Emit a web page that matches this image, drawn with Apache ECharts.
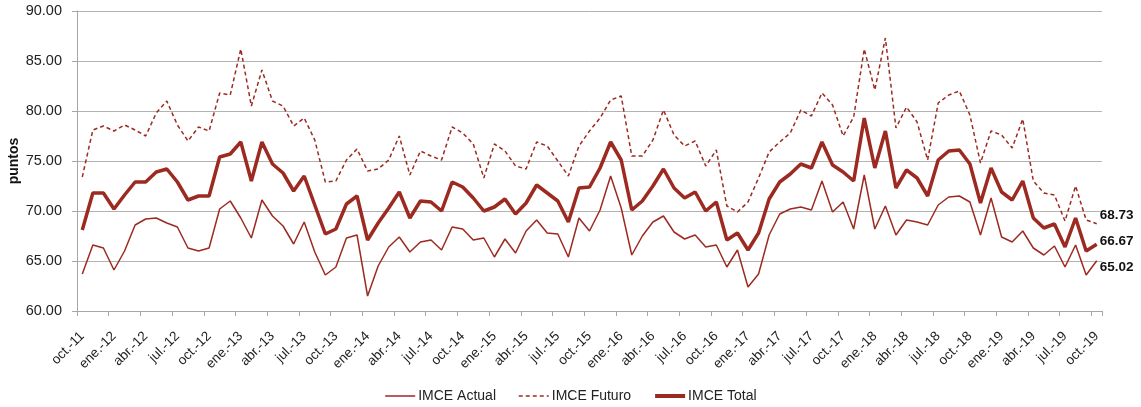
<!DOCTYPE html>
<html>
<head>
<meta charset="utf-8">
<script src="https://cdn.jsdelivr.net/npm/echarts@6/dist/echarts.min.js"></script>
<style>
  html, body { margin: 0; padding: 0; background: #fff; }
  #chart { width: 1141px; height: 407px; }
</style>
</head>
<body>
<div id="chart"></div>
<script>
// meses (oct-11 .. oct-19)
var meses = ['ene.', 'feb.', 'mar.', 'abr.', 'may.', 'jun.', 'jul.', 'ago.', 'sep.', 'oct.', 'nov.', 'dic.'];
var categorias = [];
for (var i = 0; i < 97; i++) {
  var m = (9 + i) % 12;
  var y = 11 + Math.floor((9 + i) / 12);
  categorias.push(meses[m] + '-' + y);
}

var imceActual = [
  63.7, 66.6, 66.3, 64.1, 66.0, 68.6, 69.2, 69.3, 68.8, 68.4, 66.3, 66.0,
  66.3, 70.2, 71.0, 69.3, 67.3, 71.1, 69.5, 68.5, 66.7, 68.9, 65.9, 63.6,
  64.4, 67.3, 67.6, 61.5, 64.5, 66.4, 67.4, 65.9, 66.9, 67.1, 66.1, 68.4,
  68.2, 67.1, 67.3, 65.4, 67.2, 65.8, 68.0, 69.1, 67.8, 67.7, 65.4, 69.3,
  68.0, 70.1, 73.5, 70.3, 65.6, 67.5, 68.9, 69.5, 67.9, 67.2, 67.6, 66.4,
  66.6, 64.4, 66.1, 62.4, 63.7, 67.6, 69.7, 70.2, 70.4, 70.1, 73.0, 69.9,
  70.9, 68.2, 73.6, 68.2, 70.5, 67.6, 69.1, 68.9, 68.6, 70.6, 71.4, 71.5,
  70.9, 67.6, 71.3, 67.4, 66.9, 68.0, 66.3, 65.6, 66.5, 64.4, 66.6, 63.6,
  65.02
];

var imceFuturo = [
  73.4, 78.1, 78.5, 78.0, 78.6, 78.1, 77.5, 79.8, 81.0, 78.6, 77.0, 78.4,
  78.0, 81.8, 81.6, 86.2, 80.5, 84.1, 81.0, 80.5, 78.5, 79.3, 77.1, 72.9,
  73.0, 75.1, 76.2, 74.0, 74.2, 75.1, 77.5, 73.6, 76.0, 75.5, 75.1, 78.4,
  77.8, 76.7, 73.3, 76.7, 76.0, 74.5, 74.2, 76.9, 76.5, 75.0, 73.5, 76.5,
  78.0, 79.3, 81.1, 81.5, 75.5, 75.5, 77.1, 80.1, 77.6, 76.5, 77.0, 74.5,
  76.1, 70.5, 69.9, 70.9, 73.3, 75.9, 76.9, 77.8, 80.1, 79.5, 81.8, 80.6,
  77.5, 79.4, 86.2, 82.1, 87.3, 78.3, 80.4, 78.9, 75.1, 80.8, 81.6, 82.0,
  79.6, 74.8, 78.0, 77.6, 76.3, 79.2, 73.0, 71.8, 71.6, 69.0, 72.5, 69.1,
  68.73
];

var imceTotal = [
  68.1, 71.8, 71.8, 70.2, 71.6, 72.9, 72.9, 73.9, 74.2, 72.9, 71.1, 71.5,
  71.5, 75.4, 75.7, 76.9, 73.0, 76.9, 74.7, 73.8, 72.0, 73.5, 70.6, 67.7,
  68.2, 70.7, 71.5, 67.1, 68.8, 70.3, 71.9, 69.3, 71.0, 70.9, 70.0, 72.9,
  72.4, 71.3, 70.0, 70.4, 71.2, 69.7, 70.8, 72.6, 71.8, 71.0, 68.9, 72.3,
  72.4, 74.3, 76.9, 75.1, 70.1, 71.0, 72.5, 74.2, 72.3, 71.3, 71.9, 70.0,
  70.9, 67.1, 67.8, 66.1, 67.8, 71.2, 72.9, 73.7, 74.7, 74.3, 76.9, 74.6,
  73.9, 73.0, 79.3, 74.3, 78.0, 72.3, 74.1, 73.3, 71.5, 75.1, 76.0, 76.1,
  74.7, 70.8, 74.3, 71.9, 71.1, 73.0, 69.3, 68.3, 68.7, 66.4, 69.3, 66.0,
  66.67
];

var rojo = '#9c2a20';
var fuente = '"Liberation Sans", Arial, sans-serif';

var chart = echarts.init(document.getElementById('chart'));

function etiquetaFinal (dy) {
  return {
    show: true,
    formatter: function (p) { return p.value.toFixed(2); },
    offset: [-5, dy],
    color: '#111',
    fontWeight: 'bold',
    fontSize: 13.5,
    fontFamily: fuente
  };
}

var option = {
  animation: false,
  textStyle: { fontFamily: fuente },
  grid: { left: 77, right: 39, top: 11, bottom: 96, outerBoundsMode: 'none', containLabel: false },
  legend: {
    top: 384,
    left: 'center',
    itemWidth: 30,
    itemHeight: 14,
    itemGap: 22,
    itemStyle: { opacity: 0 },
    textStyle: { fontSize: 14, color: '#222', fontFamily: fuente, padding: [0, 0, 0, -2] },
    data: [
      { name: 'IMCE Actual', lineStyle: { width: 1.5 } },
      { name: 'IMCE Futuro', lineStyle: { width: 1.5, type: [4, 3] } },
      { name: 'IMCE Total', lineStyle: { width: 4 } }
    ]
  },
  xAxis: {
    type: 'category',
    boundaryGap: true,
    data: categorias,
    axisLine: { lineStyle: { color: '#a6a6a6', width: 1 } },
    axisTick: { show: true, interval: 2, length: 5, lineStyle: { color: '#a6a6a6' } },
    axisLabel: {
      interval: 2,
      rotate: 45,
      color: '#222',
      fontSize: 13.5,
      margin: 23,
      fontFamily: fuente
    },
    splitLine: { show: false }
  },
  yAxis: {
    type: 'value',
    min: 60,
    max: 90,
    interval: 5,
    name: 'puntos',
    nameLocation: 'middle',
    nameGap: 56,
    nameRotate: 90,
    nameMoveOverlap: false,
    nameTextStyle: { fontWeight: 'bold', fontSize: 14, color: '#111', fontFamily: fuente },
    axisLine: { show: true, lineStyle: { color: '#a6a6a6', width: 1 } },
    axisTick: { show: true, length: 5, lineStyle: { color: '#a6a6a6' } },
    axisLabel: {
      color: '#222',
      fontSize: 14.5,
      margin: 15,
      formatter: function (v) { return v.toFixed(2); },
      fontFamily: fuente
    },
    splitLine: { lineStyle: { color: '#b3b3b3', width: 1 } }
  },
  series: [
    {
      name: 'IMCE Actual',
      type: 'line',
      data: imceActual,
      symbol: 'none',
      color: rojo,
      lineStyle: { width: 1.5, color: rojo },
      endLabel: etiquetaFinal(6),
      z: 2
    },
    {
      name: 'IMCE Futuro',
      type: 'line',
      data: imceFuturo,
      symbol: 'none',
      color: rojo,
      lineStyle: { width: 1.5, color: rojo, type: [4, 3] },
      endLabel: etiquetaFinal(-8),
      z: 2
    },
    {
      name: 'IMCE Total',
      type: 'line',
      data: imceTotal,
      symbol: 'none',
      color: rojo,
      lineStyle: { width: 3.5, color: rojo },
      endLabel: etiquetaFinal(-3),
      z: 3
    }
  ]
};

chart.setOption(option);
</script>
</body>
</html>
